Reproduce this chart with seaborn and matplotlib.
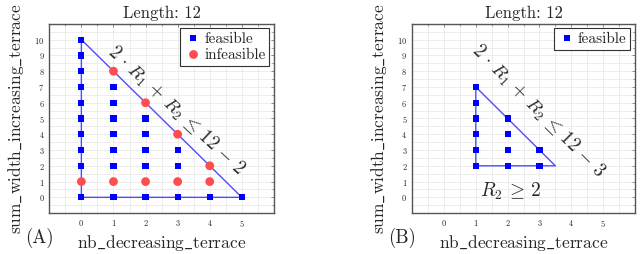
import numpy as np
import pandas as pd
import seaborn as sns
import matplotlib.pyplot as plt
from matplotlib.ticker import MultipleLocator

# panel A points
feas_a_x = [0, 0, 0, 0, 0, 0, 0, 0, 0, 0,
            1, 1, 1, 1, 1, 1, 1,
            2, 2, 2, 2, 2,
            3, 3, 3, 4, 5]
feas_a_y = [0, 2, 3, 4, 5, 6, 7, 8, 9, 10,
            0, 2, 3, 4, 5, 6, 7,
            0, 2, 3, 4, 5,
            0, 2, 3, 0, 0]
infeas_a_x = [0, 1, 2, 3, 4, 1, 2, 3, 4]
infeas_a_y = [1, 1, 1, 1, 1, 8, 6, 4, 2]
tri_a_x = [0, 0, 5, 0]
tri_a_y = [0, 10, 0, 0]

# panel B points
feas_b_x = [1, 1, 1, 1, 1, 1, 2, 2, 2, 2, 3, 3]
feas_b_y = [2, 3, 4, 5, 6, 7, 2, 3, 4, 5, 2, 3]
tri_b_x = [1, 1, 3.5, 1]
tri_b_y = [2, 7, 2, 2]

sns.set_style("white")
plt.rcParams['font.family'] = ['serif']
plt.rcParams['font.serif'] = ['cmr10', 'DejaVu Serif']
plt.rcParams['mathtext.fontset'] = 'cm'
plt.rcParams['axes.unicode_minus'] = False
plt.rcParams['axes.formatter.use_mathtext'] = True

fig = plt.figure(figsize=(6.4, 2.54), dpi=100)
ax_a = fig.add_axes([0.077, 0.161, 0.351, 0.745])
ax_b = fig.add_axes([0.644, 0.161, 0.348, 0.745])

blue = '#0000ff'
red = '#ff4d4d'
line_c = '#4d4dff'

df_a = pd.DataFrame({
    'x': feas_a_x + infeas_a_x,
    'y': feas_a_y + infeas_a_y,
    'status': ['feasible'] * len(feas_a_x) + ['infeasible'] * len(infeas_a_x),
})
df_b = pd.DataFrame({'x': feas_b_x, 'y': feas_b_y, 'status': 'feasible'})


def style_axes(ax, tag):
    ax.set_xlim(-1, 6)
    ax.set_ylim(-1, 11)
    ax.xaxis.set_minor_locator(MultipleLocator(0.5))
    ax.yaxis.set_minor_locator(MultipleLocator(0.5))
    ax.set_xticks(range(0, 6))
    ax.set_yticks(range(0, 11))
    ax.grid(True, which='both', color='#e6e6e6', linewidth=0.5)
    ax.set_axisbelow(True)
    ax.tick_params(which='both', direction='in', top=True, right=True,
                   labelsize=6, color='#666666', length=2.5, width=0.5)
    ax.tick_params(which='minor', length=1.5)
    for sp in ax.spines.values():
        sp.set_color('#555555')
        sp.set_linewidth(1.0)
    ax.set_xlabel(r'$\mathrm{nb\_decreasing\_terrace}$', fontsize=12.5,
                  labelpad=3)
    ax.set_ylabel(r'$\mathrm{sum\_width\_increasing\_terrace}$',
                  fontsize=12.5, labelpad=6)
    ax.set_title('Length: 12', fontsize=12, pad=4)
    ax.text(-0.045, -0.13, tag, transform=ax.transAxes, fontsize=13.5,
            ha='center', va='center')


def add_legend(ax):
    leg = ax.legend(loc='upper right', fontsize=11, frameon=True,
                    fancybox=False, edgecolor='#333333', framealpha=1,
                    handletextpad=0.1, borderpad=0.25, labelspacing=0.15,
                    borderaxespad=0.3, handlelength=1.2)
    leg.get_frame().set_linewidth(0.8)


# panel A
ax_a.plot(tri_a_x, tri_a_y, color=line_c, linewidth=1.0, zorder=2)
sns.scatterplot(data=df_a, x='x', y='y', hue='status', style='status',
                palette={'feasible': blue, 'infeasible': red},
                markers={'feasible': 's', 'infeasible': 'o'},
                size='status', sizes={'feasible': 20, 'infeasible': 40},
                linewidth=0, ax=ax_a, zorder=3)
ax_a.text(2.95, 5.5, r'$2\,\cdot\,R_1\,+\,R_2\,\leq\,12\,-\,2$', fontsize=13.5,
          rotation=-43, ha='center', va='center', rotation_mode='anchor')
style_axes(ax_a, '(A)')
add_legend(ax_a)

# panel B
ax_b.plot(tri_b_x, tri_b_y, color=line_c, linewidth=1.0, zorder=2)
sns.scatterplot(data=df_b, x='x', y='y', hue='status', style='status',
                palette={'feasible': blue}, markers={'feasible': 's'},
                size='status', sizes={'feasible': 20},
                linewidth=0, ax=ax_b, zorder=3)
ax_b.text(2.95, 5.45, r'$2\,\cdot\,R_1\,+\,R_2\,\leq\,12\,-\,3$', fontsize=13.5,
          rotation=-45, ha='center', va='center', rotation_mode='anchor')
ax_b.text(2.1, 0.35, r'$R_2\,\geq\,2$', fontsize=14, ha='center', va='center')
style_axes(ax_b, '(B)')
add_legend(ax_b)

fig.savefig('out.png', dpi=100)
